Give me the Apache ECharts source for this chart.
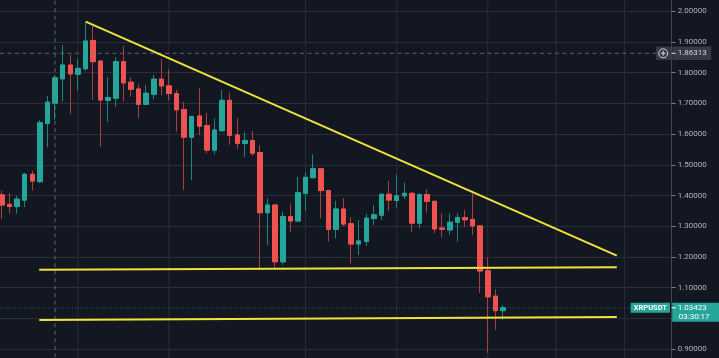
<!DOCTYPE html>
<html><head><meta charset="utf-8">
<script src="https://cdn.jsdelivr.net/npm/echarts@6/dist/echarts.min.js"></script>
<style>html,body{margin:0;padding:0;background:#131722;}#c{width:719px;height:358px;}</style>
</head><body><div id="c"></div>
<script>
// ---- data ----
const opens  = [1.402,1.371,1.364,1.385,1.469,1.445,1.635,1.701,1.780,1.825,1.795,1.813,1.905,1.838,1.710,1.717,1.836,1.769,1.747,1.697,1.730,1.779,1.757,1.732,1.680,1.590,1.659,1.628,1.548,1.611,1.710,1.597,1.570,1.579,1.540,1.344,1.369,1.184,1.331,1.317,1.407,1.458,1.487,1.416,1.290,1.356,1.308,1.242,1.250,1.325,1.336,1.404,1.384,1.399,1.407,1.310,1.403,1.381,1.294,1.288,1.313,1.328,1.322,1.301,1.155,1.072,1.025];
const closes = [1.369,1.364,1.388,1.469,1.447,1.637,1.704,1.783,1.825,1.796,1.814,1.903,1.836,1.711,1.719,1.836,1.767,1.746,1.697,1.733,1.779,1.757,1.732,1.679,1.590,1.657,1.626,1.548,1.613,1.710,1.596,1.570,1.579,1.538,1.344,1.369,1.184,1.331,1.317,1.409,1.459,1.487,1.416,1.290,1.356,1.307,1.242,1.252,1.326,1.337,1.404,1.385,1.399,1.407,1.310,1.403,1.381,1.291,1.290,1.313,1.328,1.321,1.301,1.154,1.070,1.025,1.03423];
const lows   = [1.323,1.342,1.340,1.362,1.416,1.442,1.557,1.646,1.706,1.665,1.741,1.806,1.711,1.559,1.640,1.689,1.706,1.722,1.652,1.695,1.713,1.727,1.709,1.608,1.418,1.450,1.597,1.537,1.534,1.608,1.565,1.552,1.526,1.529,1.157,1.239,1.163,1.174,1.282,1.315,1.350,1.456,1.326,1.250,1.261,1.301,1.179,1.206,1.236,1.304,1.320,1.350,1.360,1.388,1.282,1.293,1.345,1.277,1.264,1.271,1.250,1.298,1.271,1.083,0.888,0.962,0.995];
const highs  = [1.416,1.408,1.399,1.474,1.481,1.646,1.724,1.793,1.890,1.858,1.845,1.966,1.955,1.841,1.785,1.850,1.887,1.785,1.762,1.760,1.793,1.844,1.811,1.744,1.705,1.660,1.749,1.670,1.651,1.744,1.735,1.652,1.608,1.610,1.565,1.391,1.372,1.347,1.371,1.461,1.476,1.535,1.489,1.419,1.382,1.391,1.329,1.320,1.340,1.369,1.407,1.448,1.467,1.442,1.412,1.407,1.420,1.383,1.342,1.342,1.342,1.353,1.416,1.303,1.199,1.095,1.043];

// vertical time grid lines (candle index)
const timeGridIdx = [10, 22, 40, 52, 64, 73, 82];
// drawn lines: [[index, price], [index, price]]
const trendLine   = [[11.03, 1.9661], [81.0, 1.2039]];
const supportHigh = [[4.91, 1.1583], [81.0, 1.1661]];
const supportLow  = [[4.91, 0.9945], [81.0, 1.0042]];
// crosshair
const crossIdx = 7;
const crossPrice = 1.86313;
const symbolName = 'XRPUSDT';
const countdown = '03:30:17';
// view ranges
const viewStart = -0.26, viewEnd = 88.23;
const priceMin = 0.8, priceMax = 2.1, priceStep = 0.1;

const UP = '#26a69a', DOWN = '#ef5350';
const WICK_UP = '#1f857b', WICK_DOWN = '#a8403f';
const YELLOW = '#f2e33a';
const GRID = '#2a2e39';

const chart = echarts.init(document.getElementById('c'), null, {renderer: 'canvas'});
const n = opens.length;
const ids = opens.map((_, i) => i);
const wickData = ids.map(i => [i, opens[i], closes[i], lows[i], highs[i]]);
const bodyData = ids.map(i => [i, opens[i], closes[i], Math.min(opens[i], closes[i]), Math.max(opens[i], closes[i])]);
const lastPrice = closes[n - 1];

const simpleLine = (data, color, width, type, z) => ({
  type: 'line', data, symbol: 'none', silent: true, animation: false, z,
  lineStyle: {color, width, type}, emphasis: {disabled: true}
});

const series = [];
timeGridIdx.forEach(g => series.push(simpleLine([[g, priceMin], [g, priceMax]], GRID, 1, 'solid', 0)));
series.push({
  type: 'candlestick', data: wickData, barWidth: 5, z: 2, silent: true, animation: false,
  itemStyle: {color: UP, color0: DOWN, borderColor: WICK_UP, borderColor0: WICK_DOWN, borderWidth: 1}
});
series.push({
  type: 'candlestick', data: bodyData, barWidth: 5, z: 3, silent: true, animation: false,
  itemStyle: {color: UP, color0: DOWN, borderColor: UP, borderColor0: DOWN, borderWidth: 1}
});
series.push(simpleLine([[viewStart, lastPrice], [viewEnd, lastPrice]], 'rgba(38,166,154,0.55)', 1, [1, 2], 4));
series.push(simpleLine([[crossIdx, priceMin], [crossIdx, priceMax]], 'rgba(120,123,134,0.75)', 1, [4, 3.5], 4));
series.push(simpleLine([[viewStart, crossPrice], [viewEnd, crossPrice]], 'rgba(120,123,134,0.75)', 1, [4, 3.5], 4));
series.push(simpleLine(trendLine, YELLOW, 2, 'solid', 6));
series.push(simpleLine(supportHigh, YELLOW, 2, 'solid', 6));
series.push(simpleLine(supportLow, YELLOW, 2, 'solid', 6));

chart.setOption({
  backgroundColor: '#131722',
  animation: false,
  grid: {left: 0, right: 47.3, top: -19.4, bottom: -21.7, containLabel: false, outerBoundsMode: 'none'},
  xAxis: {type: 'value', min: viewStart, max: viewEnd, show: false, splitLine: {show: false}},
  yAxis: {
    type: 'value', position: 'right', min: priceMin, max: priceMax, interval: priceStep,
    axisLine: {show: true, onZero: false, lineStyle: {color: '#434651'}},
    axisTick: {show: true, length: 4, lineStyle: {color: '#787b86'}},
    axisLabel: {margin: 6, color: '#b2b5be', fontSize: 8, fontFamily: 'Roboto', formatter: v => v.toFixed(5)},
    splitLine: {show: true, lineStyle: {color: GRID, width: 1}}
  },
  series
});

const px = v => chart.convertToPixel({xAxisIndex: 0}, v);
const py = v => chart.convertToPixel({yAxisIndex: 0}, v);
const ax = px(viewEnd);
const yc = py(lastPrice);
const yh = py(crossPrice);
const F = '8px Roboto';

chart.setOption({
  graphic: [
    // current price label on axis
    {type: 'rect', z: 100, shape: {x: ax + 0.5, y: yc - 5, width: 719 - ax, height: 19}, style: {fill: UP}},
    {type: 'line', z: 101, shape: {x1: ax, y1: yc, x2: ax + 4, y2: yc}, style: {stroke: '#ffffff', lineWidth: 1}},
    {type: 'text', z: 101, style: {text: lastPrice.toFixed(5), x: ax + 6, y: yc, fill: '#ffffff', font: F, align: 'left', verticalAlign: 'middle'}},
    {type: 'text', z: 101, style: {text: countdown, x: ax + 7, y: yc + 9.5, fill: '#ffffff', font: F, align: 'left', verticalAlign: 'middle'}},
    // symbol label
    {type: 'rect', z: 100, shape: {x: ax - 41, y: yc - 5, width: 39.3, height: 10}, style: {fill: UP}},
    {type: 'text', z: 101, style: {text: symbolName, x: ax - 21.3, y: yc, fill: '#ffffff', font: 'bold 7.5px Roboto', align: 'center', verticalAlign: 'middle'}},
    // crosshair label
    {type: 'rect', z: 100, shape: {x: ax + 0.5, y: yh - 6.7, width: 39, height: 13.3}, style: {fill: '#363a45'}},
    {type: 'line', z: 101, shape: {x1: ax, y1: yh, x2: ax + 4, y2: yh}, style: {stroke: '#d1d4dc', lineWidth: 1}},
    {type: 'text', z: 101, style: {text: crossPrice.toFixed(5), x: ax + 6, y: yh, fill: '#d1d4dc', font: F, align: 'left', verticalAlign: 'middle'}},
    {type: 'rect', z: 100, shape: {x: ax - 15.7, y: yh - 6.7, width: 15.2, height: 13.3}, style: {fill: '#363a45'}},
    {type: 'circle', z: 101, shape: {cx: ax - 8.5, cy: yh, r: 4.5}, style: {fill: 'none', stroke: '#d1d4dc', lineWidth: 1}},
    {type: 'line', z: 101, shape: {x1: ax - 11, y1: yh, x2: ax - 6, y2: yh}, style: {stroke: '#d1d4dc', lineWidth: 1}},
    {type: 'line', z: 101, shape: {x1: ax - 8.5, y1: yh - 2.5, x2: ax - 8.5, y2: yh + 2.5}, style: {stroke: '#d1d4dc', lineWidth: 1}}
  ]
});
</script></body></html>
